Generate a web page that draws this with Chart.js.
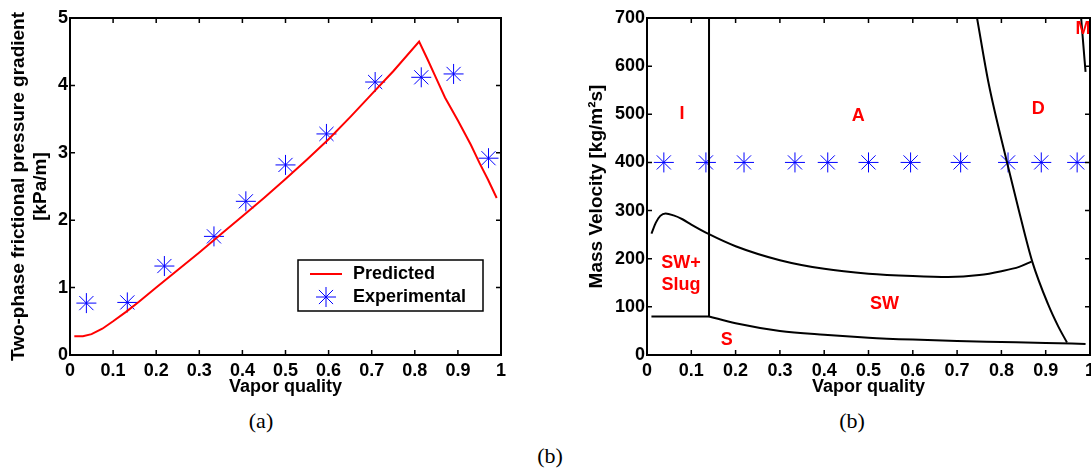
<!DOCTYPE html>
<html>
<head>
<meta charset="utf-8">
<script src="https://cdn.jsdelivr.net/npm/chart.js@4.4.0/dist/chart.umd.min.js"></script>
<style>
html, body { margin: 0; padding: 0; background: #fff; overflow: hidden; }
#wrap { position: relative; width: 1091px; height: 468px; overflow: hidden; }
canvas { position: absolute; top: 0; }
.cap { position: absolute; font-family: "Liberation Serif", "Times New Roman", serif; font-size: 22px; transform: translate(-50%, -50%); }
</style>
</head>
<body>
<div id="wrap">
  <canvas id="graph1" width="530" height="400" style="left:0"></canvas>
  <canvas id="graph2" width="560" height="400" style="left:560px"></canvas>
  <div class="cap" style="left:261px;top:421px">(a)</div>
  <div class="cap" style="left:852px;top:421px">(b)</div>
  <div class="cap" style="left:550px;top:456px">(b)</div>
</div>
<script>
// (a) pressure gradient vs vapor quality
var predX = [0.01, 0.03, 0.05, 0.075, 0.1, 0.13, 0.16, 0.2, 0.25, 0.3, 0.35, 0.4, 0.45, 0.5, 0.55, 0.6, 0.65, 0.7, 0.75, 0.81, 0.83, 0.85, 0.87, 0.9, 0.93, 0.95, 0.97, 0.99];
var predY = [0.28, 0.28, 0.31, 0.39, 0.5, 0.64, 0.79, 1.0, 1.26, 1.52, 1.79, 2.06, 2.33, 2.61, 2.9, 3.2, 3.53, 3.87, 4.21, 4.65, 4.38, 4.1, 3.82, 3.48, 3.12, 2.85, 2.6, 2.33];
var expX = [0.038, 0.133, 0.219, 0.334, 0.408, 0.5, 0.595, 0.708, 0.815, 0.89, 0.971];
var expY = [0.77, 0.78, 1.32, 1.76, 2.28, 2.82, 3.28, 4.05, 4.12, 4.17, 2.92];

// (b) flow pattern map
var massG = [400, 400, 400, 400, 400, 400, 400, 400, 400, 400, 400];
var slugX = [0.01, 0.14];
var slugY = [80, 80];
var vertX = [0.14, 0.14];
var vertY = [80, 700];
var swX = [0.01, 0.02, 0.03, 0.042, 0.06, 0.08, 0.1, 0.14, 0.2, 0.3, 0.4, 0.5, 0.6, 0.68, 0.75, 0.8, 0.84, 0.868];
var swY = [252, 275, 289, 294, 290, 282, 271, 251, 226, 197, 179, 169, 164, 162, 166, 174, 183, 194];
var sX = [0.14, 0.2, 0.3, 0.4, 0.5, 0.6, 0.7, 0.8, 0.9, 0.99];
var sY = [80, 66, 50, 42, 36, 32, 29, 27, 25, 23];
var dX = [0.745, 0.771, 0.813, 0.84, 0.87, 0.906, 0.928, 0.948];
var dY = [700, 565, 399, 298, 193, 104, 60, 26];
var mX = [0.98, 0.988, 0.99];
var mY = [700, 610, 588];
var regionText = ['I', 'A', 'D', 'M', 'SW+', 'Slug', 'SW', 'S'];
var regionX = [0.079, 0.477, 0.883, 0.984, 0.077, 0.077, 0.536, 0.18];
var regionY = [500, 496, 510, 678, 192, 145, 105, 32];

var FONT = "'Liberation Sans', Arial, sans-serif";

function pts(xs, ys) {
  return xs.map(function (x, i) { return { x: x, y: ys[i] }; });
}

function starPath(ctx, x, y, r) {
  var d = r * Math.SQRT1_2;
  ctx.beginPath();
  ctx.moveTo(x - r, y); ctx.lineTo(x + r, y);
  ctx.moveTo(x, y - r); ctx.lineTo(x, y + r);
  ctx.moveTo(x - d, y - d); ctx.lineTo(x + d, y + d);
  ctx.moveTo(x - d, y + d); ctx.lineTo(x + d, y - d);
  ctx.stroke();
}

// box round the plot with inward ticks on all four sides
var frame = {
  id: 'frame',
  afterDraw: function (chart) {
    var ctx = chart.ctx, a = chart.chartArea;
    var xs = chart.scales.x, ys = chart.scales.y;
    ctx.save();
    ctx.strokeStyle = '#000';
    ctx.lineWidth = 1.5;
    ctx.beginPath();
    xs.ticks.forEach(function (t) {
      var p = xs.getPixelForValue(t.value);
      ctx.moveTo(p, a.bottom); ctx.lineTo(p, a.bottom - 5);
      ctx.moveTo(p, a.top); ctx.lineTo(p, a.top + 5);
    });
    ys.ticks.forEach(function (t) {
      var p = ys.getPixelForValue(t.value);
      ctx.moveTo(a.left, p); ctx.lineTo(a.left + 5, p);
      ctx.moveTo(a.right, p); ctx.lineTo(a.right - 5, p);
    });
    ctx.stroke();
    ctx.lineWidth = 2;
    ctx.strokeRect(a.left, a.top, a.right - a.left, a.bottom - a.top);
    ctx.restore();
  }
};

var legendBox = {
  id: 'legendBox',
  afterDraw: function (chart) {
    var ctx = chart.ctx;
    var ds = chart.data.datasets;
    ctx.save();
    ctx.fillStyle = '#fff';
    ctx.fillRect(298, 260, 185, 51);
    ctx.strokeStyle = '#000';
    ctx.lineWidth = 1.5;
    ctx.strokeRect(298, 260, 185, 51);
    ctx.strokeStyle = ds[0].borderColor;
    ctx.lineWidth = 2;
    ctx.beginPath(); ctx.moveTo(310, 274); ctx.lineTo(342, 274); ctx.stroke();
    ctx.strokeStyle = ds[1].borderColor;
    ctx.lineWidth = 1;
    starPath(ctx, 326, 297, 10);
    ctx.fillStyle = '#000';
    ctx.font = 'bold 18px ' + FONT;
    ctx.textBaseline = 'middle';
    ctx.fillText(ds[0].label, 353, 274);
    ctx.fillText(ds[1].label, 353, 297);
    ctx.restore();
  }
};

var regions = {
  id: 'regions',
  afterDatasetsDraw: function (chart) {
    var ctx = chart.ctx;
    ctx.save();
    ctx.fillStyle = '#ff0000';
    ctx.font = 'bold 18px ' + FONT;
    ctx.textAlign = 'center';
    ctx.textBaseline = 'middle';
    regionText.forEach(function (t, i) {
      ctx.fillText(t, chart.scales.x.getPixelForValue(regionX[i]), chart.scales.y.getPixelForValue(regionY[i]));
    });
    ctx.restore();
  }
};

function xAxis() {
  return {
    type: 'linear', min: 0, max: 1,
    grid: { display: false, drawTicks: false },
    border: { display: false },
    ticks: {
      stepSize: 0.1, autoSkip: false, maxRotation: 0, padding: 5, color: '#000',
      font: { family: FONT, size: 18, weight: 'bold' },
      callback: function (v) { return String(Math.round(v * 10) / 10); }
    },
    title: { display: true, text: 'Vapor quality', color: '#000', padding: 2, font: { family: FONT, size: 18, weight: 'bold' } },
    afterFit: function (s) { s.height = 45; }
  };
}

var graph1 = document.getElementById('graph1').getContext('2d');
var chart1 = new Chart(graph1, {
  type: 'scatter',
  data: {
    datasets: [{
      label: 'Predicted',
      data: pts(predX, predY),
      showLine: true,
      borderColor: '#ff0000',
      borderWidth: 2,
      pointRadius: 0,
      tension: 0
    }, {
      label: 'Experimental',
      data: pts(expX, expY),
      showLine: false,
      pointStyle: 'star',
      pointRadius: 10,
      borderColor: '#0000ff',
      borderWidth: 1
    }]
  },
  options: {
    responsive: false,
    animation: false,
    layout: { padding: { left: 0, top: 18, right: 29, bottom: 0 } },
    plugins: { legend: { display: false }, tooltip: { enabled: false } },
    scales: {
      x: xAxis(),
      y: {
        type: 'linear', min: 0, max: 5,
        grid: { display: false, drawTicks: false },
        border: { display: false },
        ticks: { stepSize: 1, padding: 2, color: '#000', font: { family: FONT, size: 18, weight: 'bold' } },
        title: {
          display: true,
          text: ['Two-phase frictional pressure gradient', '[kPa/m]'],
          color: '#000', padding: { top: 7, bottom: 0 },
          font: { family: FONT, size: 19, weight: 'bold' }
        },
        afterFit: function (s) { s.width = 70; }
      }
    }
  },
  plugins: [frame, legendBox]
});

function line(xs, ys, smooth) {
  return {
    data: pts(xs, ys), showLine: true, borderColor: '#000', borderWidth: 2, pointRadius: 0,
    cubicInterpolationMode: smooth ? 'monotone' : 'default', tension: smooth ? 0.4 : 0
  };
}

var graph2 = document.getElementById('graph2').getContext('2d');
var chart2 = new Chart(graph2, {
  type: 'scatter',
  data: {
    datasets: [
      line(slugX, slugY, false),
      line(vertX, vertY, false),
      line(swX, swY, true),
      line(sX, sY, true),
      line(dX, dY, true),
      line(mX, mY, false),
      {
        label: 'Experimental',
        data: pts(expX, massG),
        showLine: false,
        pointStyle: 'star',
        pointRadius: 10,
        borderColor: '#0000ff',
        borderWidth: 1
      }
    ]
  },
  options: {
    responsive: false,
    animation: false,
    layout: { padding: { left: 0, top: 18, right: 30, bottom: 0 } },
    plugins: { legend: { display: false }, tooltip: { enabled: false } },
    scales: {
      x: xAxis(),
      y: {
        type: 'linear', min: 0, max: 700,
        grid: { display: false, drawTicks: false },
        border: { display: false },
        ticks: { stepSize: 100, padding: 2, color: '#000', font: { family: FONT, size: 18, weight: 'bold' } },
        title: {
          display: true,
          text: 'Mass Velocity [kg/m\u00b2s]',
          color: '#000', padding: { top: 25, bottom: 0 },
          font: { family: FONT, size: 19, weight: 'bold' }
        },
        afterFit: function (s) { s.width = 87; }
      }
    }
  },
  plugins: [frame, regions]
});
</script>
</body>
</html>
